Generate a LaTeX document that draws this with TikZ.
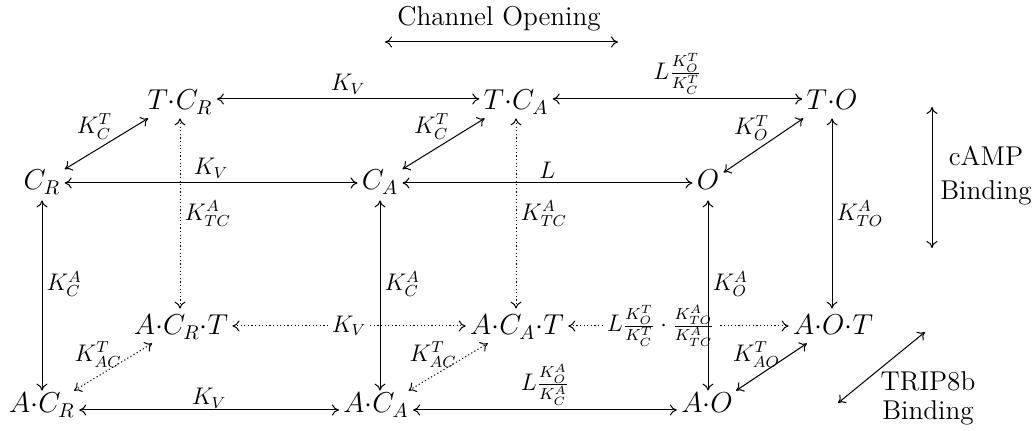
\documentclass[tikz,border=0pt]{standalone}
\usetikzlibrary{arrows.meta}
\begin{document}
\begin{tikzpicture}[x=0.5pt,y=-0.5pt,
  >={Computer Modern Rightarrow[length=3.5pt,width=5.5pt]},
  st/.style={inner sep=2pt,font=\fontsize{14.4}{17}\selectfont},
  rowa/.style={st,text height=13pt,text depth=2pt},
  rowb/.style={st,text height=10pt,text depth=3pt},
  rowc/.style={st,text height=11pt,text depth=2pt},
  rowd/.style={st,text height=9pt,text depth=6pt},
  lbl/.style={inner sep=2pt,font=\fontsize{11.5}{13}\selectfont},
  dlbl/.style={lbl,above left,xshift=5pt},
  blbl/.style={lbl,above left,xshift=6.5pt,yshift=-2.5pt},
  conn/.style={<->,line width=0.5pt},
  dotconn/.style={conn,dash pattern=on 0.6pt off 1.2pt},
  side/.style={align=center,inner sep=0pt}
]
\useasboundingbox (0,0) rectangle (1036,431);

% state nodes
\node[rowa] (TCR) at (180,99) {$T{\cdot}C_R$};
\node[rowa] (TCA) at (516,99) {$T{\cdot}C_A$};
\node[rowa] (TO) at (832,99) {$T{\cdot}O$};
\node[rowb] (CR) at (42,183) {$C_R$};
\node[rowb] (CA) at (380,183) {$C_A$};
\node[rowb] (O) at (708,183) {$O$};
\node[rowc] (ACRT) at (181,326) {$A{\cdot}C_R{\cdot}T$};
\node[rowc] (ACAT) at (517,326) {$A{\cdot}C_A{\cdot}T$};
\node[rowc] (AOT) at (833,326) {$A{\cdot}O{\cdot}T$};
\node[rowd] (ACR) at (42,410) {$A{\cdot}C_R$};
\node[rowd] (ACA) at (376,410) {$A{\cdot}C_A$};
\node[rowd] (AO) at (707,410) {$A{\cdot}O$};

% horizontal connectors
\draw[conn] (TCR) -- node[lbl,above]{$K_V$} (TCA);
\draw[conn] (TCA) -- node[lbl,above]{$L\frac{K_O^T}{K_C^T}$} (TO);
\draw[conn] (CR) -- node[lbl,above]{$K_V$} (CA);
\draw[conn] (CA) -- node[lbl,above]{$L$} (O);
\draw[dotconn] (ACRT) -- node[lbl,fill=white]{$K_V$} (ACAT);
\draw[dotconn] (ACAT) -- node[lbl,fill=white,pos=0.42]{$L\frac{K_O^T}{K_C^T}\cdot\frac{K_{TO}^A}{K_{TC}^A}$} (AOT);
\draw[conn] (ACR) -- node[lbl,above,yshift=-1.5pt]{$K_V$} (ACA);
\draw[conn] (ACA) -- node[lbl,above]{$L\frac{K_O^A}{K_C^A}$} (AO);

% vertical connectors
\draw[conn] (CR) -- node[lbl,right,pos=0.44]{$K_C^A$} (ACR);
\draw[conn] (CA) -- node[lbl,right,pos=0.44]{$K_C^A$} (CA |- ACA.north);
\draw[conn] (O) -- node[lbl,right,pos=0.44]{$K_O^A$} (O |- AO.north);
\draw[conn] (TO) -- node[lbl,right]{$K_{TO}^A$} (TO |- AOT.north);
\draw[dotconn] (TCR) -- node[lbl,right]{$K_{TC}^A$} (TCR |- ACRT.north);
\draw[dotconn] (TCA) -- node[lbl,right]{$K_{TC}^A$} (TCA |- ACAT.north);

% diagonal connectors
\draw[conn] (CR) -- node[dlbl]{$K_C^T$} (TCR);
\draw[conn] (CA) -- node[dlbl]{$K_C^T$} (TCA);
\draw[conn] (O) -- node[dlbl]{$K_O^T$} (TO);
\draw[dotconn] (ACR) -- node[blbl]{$K_{AC}^T$} (ACRT);
\draw[dotconn] (ACA) -- node[blbl]{$K_{AC}^T$} (ACAT);
\draw[conn] (AO) -- node[blbl]{$K_{AO}^T$} (AOT);

% axis legends
\node[side,font=\fontsize{13.6}{16}\selectfont] (chan) at (499,19) {Channel Opening};
\coordinate (chL) at (385,42);
\coordinate (chR) at (618,42);
\draw[conn] (chL) -- (chR);

\node[side,font=\fontsize{13.6}{17}\selectfont] (camp) at (986,176) {cAMP\\Binding};
\coordinate (cT) at (932,107);
\coordinate (cB) at (932,248);
\draw[conn] (cT) -- (cB);

\node[side,font=\fontsize{13.6}{14.5}\selectfont] (trip) at (928,398) {TRIP8b\\Binding};
\coordinate (tL) at (838,403);
\coordinate (tR) at (925,332);
\draw[conn] (tL) -- (tR);
\end{tikzpicture}
\end{document}
